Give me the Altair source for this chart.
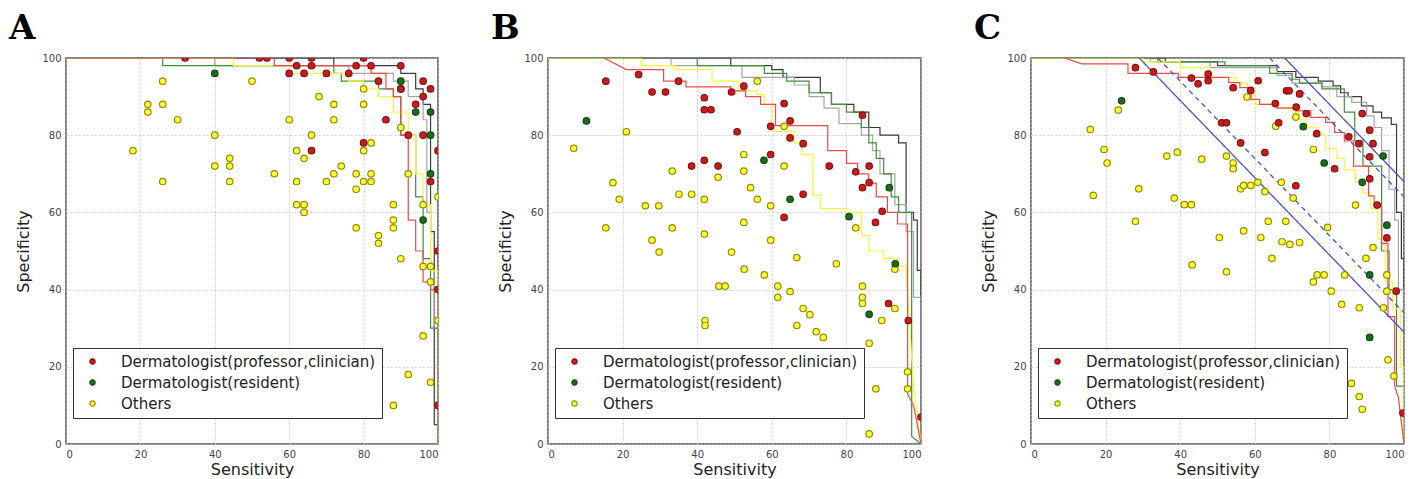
import altair as alt
import pandas as pd

# ---------------- data ----------------
GROUPS = ["Dermatologist(professor,clinician)", "Dermatologist(resident)", "Others"]

# Panel A points (sensitivity, specificity)
A_red_sens = [32, 52, 54, 60, 66, 80, 62, 66, 78, 82, 90, 60, 64, 70, 76, 84, 96, 90, 98, 96, 94, 86, 92, 96, 80, 66, 100, 98, 100, 100, 100]
A_red_spec = [100, 100, 100, 100, 100, 100, 98, 98, 98, 98, 98, 96, 96, 96, 96, 94, 94, 92, 92, 90, 88, 84, 80, 80, 78, 76, 76, 68, 50, 40, 10]
A_grn_sens = [40, 90, 90, 94, 98, 98, 98, 96]
A_grn_spec = [96, 94, 92, 86, 86, 80, 70, 58]
A_yel_sens = [26, 50, 22, 26, 22, 30, 68, 72, 80, 80, 60, 72, 90, 40, 66, 18, 62, 80, 82, 64, 44, 40, 44, 74, 56, 72, 78, 82, 92,
              26, 44, 62, 70, 80, 82, 78, 88, 96, 62, 64, 64, 78, 88, 88, 84, 84, 90, 96, 98, 98, 100, 96, 92, 98, 88, 100]
A_yel_spec = [94, 94, 88, 88, 86, 84, 90, 88, 88, 92, 84, 84, 82, 80, 80, 76, 76, 76, 78, 74, 74, 72, 72, 72, 70, 70, 70, 70, 70,
              68, 68, 68, 68, 68, 68, 66, 62, 62, 62, 62, 60, 56, 58, 56, 54, 52, 48, 46, 46, 42, 32, 28, 18, 16, 10, 64]

# Panel B points
B_red_sens = [15.5, 24.3, 27.9, 31.5, 35, 41.9, 41.9, 43.7, 49.2, 52.5, 50.7, 41.9, 38.5, 45.6, 59.7, 59.7, 63.3, 64.9, 64.9, 68.4,
              68.4, 63.3, 75.4, 82.5, 86.1, 84.3, 86.1, 84.3, 89.6, 87.8, 91.3, 96.6, 100]
B_red_spec = [94, 95.7, 91.2, 91.2, 94, 89.7, 86.6, 86.6, 91.2, 92.7, 80.9, 73.5, 72, 72, 75, 82.3, 88.2, 83.7, 79.3, 77.8,
              64.7, 58.7, 72, 70.5, 72, 85.2, 67.7, 66.4, 60.3, 57.4, 36.4, 32, 7]
B_grn_sens = [10.3, 57.9, 64.9, 80.7, 91.5, 93.1, 86.1]
B_grn_spec = [83.7, 73.5, 63.4, 58.9, 66.4, 46.7, 33.6]
B_yel_sens = [6.9, 21, 56.1, 63.3, 52.5, 63.3, 33.3, 52.5, 45.6, 17.4, 54.3, 35.1, 38.5, 19.1, 41.9, 56.1, 26.1, 29.7, 59.7, 15.5,
              33.3, 52.5, 82.5, 27.9, 41.9, 59.7, 29.8, 49.2, 52.6, 66.7, 58, 77.3, 45.8, 47.5, 61.6, 64.9, 61.6, 84.3, 84.3, 84.3,
              93, 68.4, 70.2, 93, 42.1, 42.1, 66.7, 71.9, 73.8, 89.5, 86.1, 96.4, 96.4, 87.9, 86.1]
B_yel_spec = [76.6, 80.9, 94, 82.3, 75, 72, 70.7, 70.7, 69.1, 67.7, 66.4, 64.7, 64.7, 63.4, 63.4, 63.4, 61.7, 61.7, 61.7, 56,
              56, 57.4, 56, 52.8, 54.4, 52.8, 49.7, 49.7, 45.3, 48.3, 43.8, 46.7, 40.9, 40.9, 40.9, 39.5, 38, 40.9, 38, 36.4,
              45.3, 35.1, 33.5, 35.1, 32, 30.7, 30.7, 29.1, 27.6, 32, 26.1, 18.7, 14.3, 14.3, 2.6]

# Panel C points
C_red_sens = [28, 32.8, 43, 44.8, 47.5, 47.5, 54.2, 58.9, 60.9, 51.1, 52.4, 65.5, 66.4, 68.5, 69.2, 72, 71.1, 73.8, 76.6, 56.2,
              62.7, 81.4, 71, 85.2, 87.9, 88.8, 90.8, 91.7, 90.8, 90.8, 92.8, 95.4, 97.9, 99.7]
C_red_spec = [97.5, 96.4, 94.8, 93.3, 95.8, 94.1, 92.3, 91.6, 94.1, 83.2, 83.2, 88.2, 83.2, 91.5, 91.5, 90.7, 87.3, 85.6, 80.4, 78,
              75.5, 71.3, 66.9, 79.6, 77.8, 85.6, 81.3, 77.8, 74.4, 68.7, 61.9, 53.4, 39.6, 8]
C_grn_sens = [24.3, 73, 78.6, 88.8, 94.4, 95.4, 90.8, 90.8]
C_grn_spec = [88.9, 82.2, 72.8, 67.8, 74.6, 56.7, 43.8, 27.6]
C_yel_sens = [15.9, 19.6, 23.4, 20.4, 16.7, 28.9, 28, 36.4, 39.2, 38.4, 41.1, 43, 45.8, 50.5, 52.4, 54.2, 54.2, 56.2, 57, 58.9,
              60.8, 57, 61.6, 62.7, 63.6, 67.1, 68.3, 67.3, 69.4, 72, 70.3, 57.9, 65.6, 71, 75.7, 87, 79.5, 91.7, 43.2, 52.4,
              64.6, 75.7, 76.7, 78.6, 80.5, 84.1, 83.3, 88, 89.8, 95.4, 95.4, 94.5, 95.7, 97.3, 85.9, 88, 88.8]
C_yel_spec = [81.5, 76.3, 86.5, 72.8, 64.4, 66.1, 57.7, 74.6, 75.6, 63.7, 62, 62, 73.8, 53.5, 74.6, 72.8, 71.3, 66.1, 67, 67,
              67.8, 55.2, 53.5, 65.4, 57.7, 67.8, 57.7, 52.4, 51.7, 52.2, 63.7, 89.9, 82.3, 84.7, 76.3, 61.9, 56.1, 50.9, 46.4, 44.6,
              48.1, 42, 43.8, 43.8, 39.6, 43.8, 36.2, 35.3, 48.1, 43.8, 39.6, 35.3, 21.8, 17.6, 15.7, 12.3, 9]

# ROC step curves: (sensitivity list, specificity list)
A_curves = {
    "black": ([0, 72, 72, 90, 90, 94, 94, 96, 96, 98, 98, 99, 99, 100, 100],
              [100, 100, 98, 98, 96, 96, 92, 92, 88, 88, 55, 55, 5, 5, 0]),
    "gray": ([0, 40, 40, 76, 76, 88, 88, 92, 92, 96, 96, 97, 97, 98, 98, 99, 99, 100, 100],
             [100, 100, 98, 98, 96, 96, 94, 94, 90, 90, 84, 84, 60, 60, 45, 45, 30, 30, 0]),
    "green": ([0, 26, 26, 72, 72, 74, 74, 84, 84, 88, 88, 90, 90, 94, 94, 96, 96, 98, 98, 100, 100],
              [100, 100, 98, 98, 96, 96, 94, 94, 92, 92, 90, 90, 80, 80, 64, 64, 48, 48, 30, 30, 0]),
    "yellow": ([0, 45, 45, 60, 60, 76, 76, 80, 80, 84, 84, 88, 88, 92, 92, 94, 94, 96, 96, 98, 98, 100, 100],
               [100, 100, 98, 98, 96, 96, 94, 94, 92, 92, 90, 90, 86, 86, 80, 80, 70, 70, 62, 62, 45, 45, 0]),
    "red": ([0, 56, 56, 82, 82, 86, 86, 88, 88, 90, 90, 92, 92, 94, 94, 96, 96, 98, 98, 100, 100],
            [100, 100, 98, 98, 96, 96, 92, 92, 90, 90, 80, 80, 58, 58, 50, 50, 42, 42, 40, 40, 0]),
}
B_curves = {
    "black": ([0, 49, 49, 60, 60, 63, 63, 73, 73, 76, 76, 82, 82, 86, 86, 89, 89, 94, 94, 96, 96, 98, 98, 99, 99, 100, 100],
              [100, 100, 98, 98, 97, 97, 95, 95, 91, 91, 88, 88, 86, 86, 82, 82, 80, 80, 78, 78, 60, 60, 58, 58, 45, 45, 0]),
    "gray": ([0, 33, 33, 52, 52, 66, 66, 70, 70, 74, 74, 78, 78, 84, 84, 87, 87, 89, 89, 93, 93, 96, 96, 98, 98, 100, 100],
             [100, 100, 98, 98, 95, 95, 93, 93, 90, 90, 87, 87, 83, 83, 80, 80, 76, 76, 70, 70, 62, 62, 55, 55, 38, 38, 0]),
    "green": ([0, 40, 40, 58, 58, 64, 64, 70, 70, 76, 76, 80, 80, 84, 84, 86, 86, 88, 88, 90, 90, 92, 92, 94, 94, 97.5, 97.5, 100],
              [100, 100, 98, 98, 96, 96, 94, 94, 91, 91, 88, 88, 86, 86, 82, 82, 78, 78, 74, 74, 70, 70, 64, 64, 60, 60, 2, 0]),
    "yellow": ([0, 25, 25, 34, 34, 44, 44, 51, 51, 56, 56, 58, 58, 60, 60, 66, 66, 68, 68, 71, 71, 73, 73, 80, 80, 84, 84, 86, 86, 90, 90, 94, 94, 96, 97, 98, 100],
               [100, 100, 98, 98, 97, 97, 94, 94, 91.5, 91.5, 90.5, 90.5, 88, 88, 81, 81, 78, 78, 75, 75, 64.5, 64.5, 61, 61, 60, 60, 54, 54, 50, 50, 48, 48, 46, 46, 30, 15, 0]),
    "red": ([15, 21, 31, 31, 37, 37, 49, 49, 53, 53, 57, 57, 61, 61, 75, 75, 80, 80, 83, 83, 86, 86, 88, 88, 91, 91, 93.7, 93.7, 96.4, 96.4, 98, 100],
            [100, 97, 97, 94, 94, 92.5, 92.5, 91.5, 91.5, 90, 90, 88, 88, 82.5, 82.5, 76, 76, 72.7, 72.7, 70, 70, 67.6, 67.6, 64, 64, 60, 60, 57, 57, 13, 10, 0]),
}
C_curves = {
    "black": ([0, 36, 36, 50, 50, 66, 66, 71, 71, 77, 77, 81, 81, 83, 83, 85, 85, 88.6, 88.6, 91.7, 91.7, 94, 94, 96.6, 96.6, 98, 98, 99.3, 99.3, 100, 100],
              [100, 100, 99, 99, 98, 98, 96.5, 96.5, 95, 95, 94, 94, 92.8, 92.8, 91, 91, 90, 90, 87.6, 87.6, 86, 86, 84.5, 84.5, 82.8, 82.8, 60, 60, 48, 48, 0]),
    "gray": ([0, 32, 32, 48, 48, 66, 66, 70, 70, 78, 78, 82, 82, 86, 86, 90, 90, 92, 92, 94, 94, 96, 96, 97.5, 97.5, 98.5, 98.5, 100, 100],
             [100, 100, 99, 99, 97.5, 97.5, 95.5, 95.5, 93.5, 93.5, 92.5, 92.5, 90, 90, 88.5, 88.5, 85, 85, 82, 82, 76, 76, 66, 66, 58, 58, 40, 40, 0]),
    "green": ([0, 34, 34, 52, 52, 64, 64, 70, 70, 72, 72, 78, 78, 84, 84, 86.8, 86.8, 89, 89, 94, 94, 96, 96, 98, 98, 100, 100],
              [100, 100, 99, 99, 98, 98, 96, 96, 94.5, 94.5, 93.5, 93.5, 92, 92, 86, 86, 78.5, 78.5, 72, 72, 50, 50, 40, 40, 15, 15, 0]),
    "yellow": ([0, 30, 30, 40, 40, 48, 48, 55, 55, 58, 58, 60, 60, 65, 65, 70, 70, 72, 72, 74, 74, 77, 77, 79, 79, 82, 82, 84, 84, 87, 87, 89, 89, 91, 91, 93, 93, 95, 95, 97, 97, 99, 99, 100, 100],
               [100, 100, 99, 99, 97.5, 97.5, 95, 95, 93.5, 93.5, 92, 92, 88, 88, 87.2, 87.2, 86, 86, 84, 84, 82, 82, 80, 80, 76.5, 76.5, 74, 74, 71, 71, 68, 68, 65, 65, 61, 61, 53, 53, 42, 42, 35, 35, 20, 20, 0]),
    "red": ([9, 13.6, 26, 26, 39.5, 39.5, 53, 53, 56, 56, 59, 59, 61.3, 61.3, 66, 66, 71, 71, 75, 75, 79, 79, 81.4, 81.4, 84, 84, 86.5, 86.5, 90.5, 90.5, 92, 92, 94, 94, 95.7, 95.7, 97.5, 97.5, 98.5, 100],
            [100, 98.5, 98.5, 96, 96, 95, 95, 93.6, 93.6, 92.3, 92.3, 89.3, 89.3, 88, 88, 87, 87, 86.3, 86.3, 84.6, 84.6, 83.3, 83.3, 80.7, 80.7, 78.5, 78.5, 72, 72, 64.3, 64.3, 61.7, 61.7, 52, 52, 33, 33, 15, 12, 0]),
}
# Panel C iso-lines (sensitivity + specificity = constant)
C_iso_sums = [129, 134, 164, 168]
C_iso_dash = ["solid", "dashed", "dashed", "solid"]

CURVE_NAMES = ["black", "gray", "green", "yellow", "red"]
CURVE_COLORS = ["#3a3a3a", "#a5a5a5", "#3f8f3f", "#f7f73a", "#ee4a4a"]

FONT = "DejaVu Sans"


def points_df(rs, rp, gs, gp, ys, yp):
    rows = []
    for s, p in zip(ys, yp):
        rows.append({"sens": s, "spec": p, "group": GROUPS[2]})
    for s, p in zip(gs, gp):
        rows.append({"sens": s, "spec": p, "group": GROUPS[1]})
    for s, p in zip(rs, rp):
        rows.append({"sens": s, "spec": p, "group": GROUPS[0]})
    return pd.DataFrame(rows)


def curves_df(curves):
    rows = []
    for name in CURVE_NAMES:
        xs, ys = curves[name]
        for i, (s, p) in enumerate(zip(xs, ys)):
            rows.append({"curve": name, "idx": i, "sens": s, "spec": p})
    return pd.DataFrame(rows)


xenc = alt.X("sens:Q", scale=alt.Scale(domain=[0, 100], nice=False),
             axis=alt.Axis(title="Sensitivity", values=[0, 20, 40, 60, 80, 100]))
yenc = alt.Y("spec:Q", scale=alt.Scale(domain=[0, 100], nice=False),
             axis=alt.Axis(title="Specificity", values=[0, 20, 40, 60, 80, 100]))

legend = alt.Legend(title=None, orient="none", legendX=7, legendY=290,
                    fillColor="white", strokeColor="#333333", padding=6,
                    labelFont=FONT, labelFontSize=15, labelColor="#222222", labelLimit=500,
                    symbolSize=28, symbolStrokeWidth=1.2, symbolOffset=6,
                    labelOffset=21, rowPadding=5, symbolType="circle")


def panel(letter, pts, curves, width, iso=None):
    lines = alt.Chart(curves_df(curves)).mark_line(strokeWidth=1.2, clip=True).encode(
        x=xenc, y=yenc,
        color=alt.Color("curve:N", scale=alt.Scale(domain=CURVE_NAMES, range=CURVE_COLORS), legend=None),
        detail="curve:N",
        order="idx:Q",
    )
    layers = [lines]
    if iso is not None:
        rows = []
        for k, (sm, d) in enumerate(zip(iso[0], iso[1])):
            rows.append({"line": k, "dash": d, "sens": sm - 100, "spec": 100})
            rows.append({"line": k, "dash": d, "sens": 100, "spec": sm - 100})
        iso_chart = alt.Chart(pd.DataFrame(rows)).mark_line(strokeWidth=1.3, color="#4f4fd6").encode(
            x=xenc, y=yenc, detail="line:N",
            strokeDash=alt.StrokeDash("dash:N", scale=alt.Scale(domain=["solid", "dashed"], range=[[1, 0], [5, 4]]), legend=None),
        )
        layers.append(iso_chart)
    pts_chart = alt.Chart(pts).mark_circle(size=42, strokeWidth=1.2, opacity=1, clip=True).encode(
        x=xenc, y=yenc,
        fill=alt.Fill("group:N", scale=alt.Scale(domain=GROUPS, range=["#c81d1d", "#1d6b1d", "#ffff3a"]), legend=legend),
        stroke=alt.Stroke("group:N", scale=alt.Scale(domain=GROUPS, range=["#8a0f0f", "#0f4a0f", "#8f8f00"]), legend=legend),
    )
    layers.append(pts_chart)
    label = alt.Chart(pd.DataFrame({"t": [letter]})).mark_text(
        align="left", baseline="alphabetic", font="DejaVu Serif", fontSize=34, fontWeight="bold", color="black"
    ).encode(text="t:N", x=alt.value(-57), y=alt.value(-19))
    layers.append(label)
    return alt.layer(*layers).properties(width=width, height=386)


A = panel("A", points_df(A_red_sens, A_red_spec, A_grn_sens, A_grn_spec, A_yel_sens, A_yel_spec), A_curves, 372)
B = panel("B", points_df(B_red_sens, B_red_spec, B_grn_sens, B_grn_spec, B_yel_sens, B_yel_spec), B_curves, 373)
C = panel("C", points_df(C_red_sens, C_red_spec, C_grn_sens, C_grn_spec, C_yel_sens, C_yel_spec), C_curves, 373,
          iso=(C_iso_sums, C_iso_dash))

chart = alt.hconcat(A, B, C, spacing=110, bounds="flush").resolve_scale(
    color="independent", fill="independent", stroke="independent", strokeDash="independent"
).resolve_legend(fill="independent", stroke="independent").properties(
    padding={"left": 8, "top": 11, "right": 5, "bottom": 5}
).configure_view(
    stroke="#555555", strokeWidth=1.5
).configure_axis(
    labelFont=FONT, labelFontSize=10, labelColor="#444444", labelPadding=5,
    titleFont=FONT, titleFontSize=16, titleFontWeight="normal", titleColor="#222222",
    grid=True, gridColor="#c4c4c4", gridDash=[2, 2], gridWidth=0.8,
    domain=False, ticks=False,
).configure_axisX(titlePadding=2).configure_axisY(titlePadding=10)

chart.save("out.html", embed_options={"renderer": "svg", "actions": False})
